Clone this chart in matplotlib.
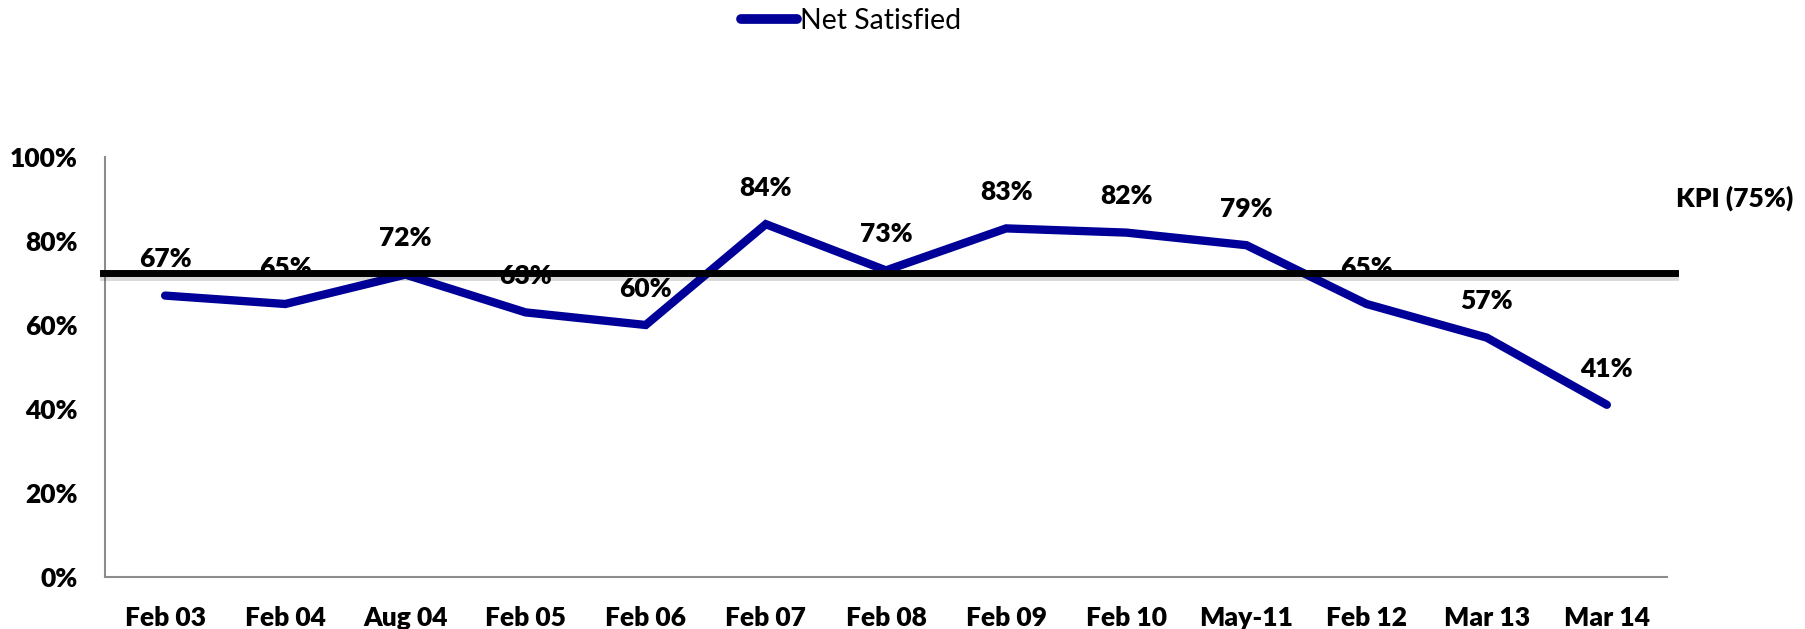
import matplotlib
matplotlib.use("Agg")
import matplotlib.pyplot as plt
import matplotlib.patheffects as pe
from matplotlib.ticker import FuncFormatter, MultipleLocator

categories = ["Feb 03", "Feb 04", "Aug 04", "Feb 05", "Feb 06", "Feb 07", "Feb 08",
              "Feb 09", "Feb 10", "May-11", "Feb 12", "Mar 13", "Mar 14"]
net_satisfied = [0.67, 0.65, 0.72, 0.63, 0.60, 0.84, 0.73, 0.83, 0.82, 0.79, 0.65, 0.57, 0.41]
kpi_line_level = 0.724
kpi_label = "KPI (75%)"
series_name = "Net Satisfied"

plt.rcParams['font.family'] = ['Lato', 'DejaVu Sans']
FS = 19
WEIGHT = "heavy"

fig = plt.figure(figsize=(18.05, 6.29), dpi=100)
ax = fig.add_axes([0.0582, 0.0827, 0.9235 - 0.0582, 0.7504 - 0.0827])

x = list(range(len(categories)))
line, = ax.plot(x, net_satisfied, color="#000099", lw=6, solid_capstyle="round",
                solid_joinstyle="miter", zorder=2, label=series_name)

for xi, v in zip(x, net_satisfied):
    ax.annotate(f"{round(v*100)}%", (xi, v), xytext=(0, 26), textcoords="offset points",
                ha="center", va="center", fontsize=FS, fontweight=WEIGHT, color="black", zorder=3)

ax.plot([-0.52, len(categories) - 0.43], [kpi_line_level, kpi_line_level], color="black", lw=5,
        clip_on=False, zorder=4,
        path_effects=[pe.SimpleLineShadow(offset=(0, -3), shadow_color="black", alpha=0.15),
                      pe.Normal()])
fig.text(1676 / 1805, 1 - 198 / 629, kpi_label, ha="left", va="center",
         fontsize=FS, fontweight=WEIGHT)

ax.set_xlim(-0.5, len(categories) - 0.5)
ax.set_ylim(0, 1.0)
ax.yaxis.set_major_locator(MultipleLocator(0.2))
ax.yaxis.set_major_formatter(FuncFormatter(lambda v, p: f"{round(v*100)}%"))
ax.set_xticks(x)
ax.set_xticklabels(categories)
for lab in ax.get_xticklabels() + ax.get_yticklabels():
    lab.set_fontweight(WEIGHT)
    lab.set_fontsize(FS)
ax.tick_params(axis="x", length=0, pad=21)
ax.tick_params(axis="y", length=0, pad=20)

for s in ["top", "right"]:
    ax.spines[s].set_visible(False)
for s in ["left", "bottom"]:
    ax.spines[s].set_color("#8c8c8c")
    ax.spines[s].set_linewidth(1.5)

leg = fig.legend(handles=[line], labels=[series_name], loc="center",
                 bbox_to_anchor=(851 / 1805, 1 - 21 / 629), frameon=False,
                 fontsize=20.5, handlelength=2.0, handletextpad=0.1)
leg.get_lines()[0].set_linewidth(7)

fig.savefig("out.png", dpi=100, facecolor="white")
